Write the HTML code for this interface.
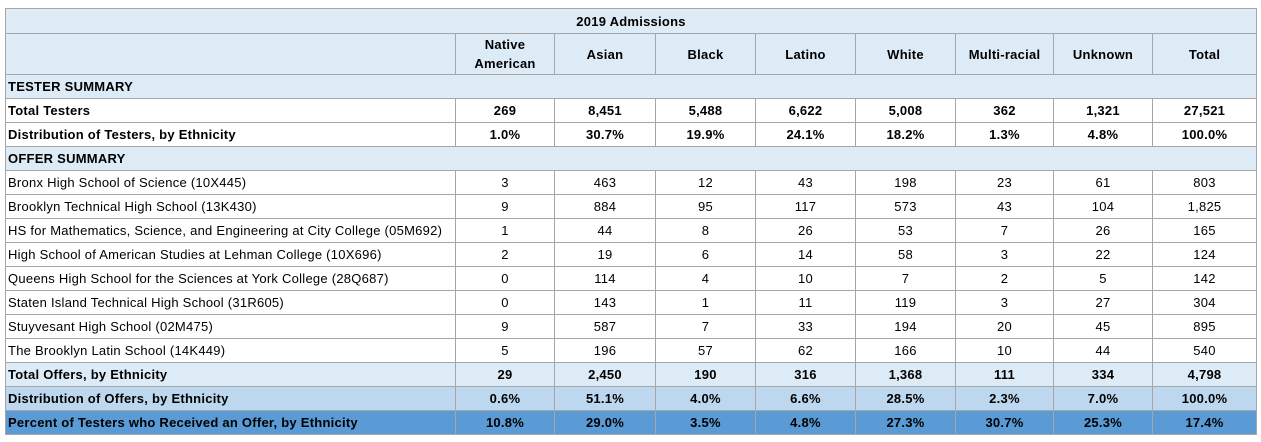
<!DOCTYPE html>
<html><head><meta charset="utf-8"><style>
body{margin:0;width:1261px;height:442px;background:#fff;font-family:"Liberation Sans",sans-serif;overflow:hidden}
table{position:absolute;left:5px;top:8px;border-collapse:collapse;table-layout:fixed;width:1251px;font-size:13px;letter-spacing:0.25px;color:#000}
td{border:1px solid #a6a6a6;height:23px;padding:0 3px;text-align:center;white-space:nowrap;overflow:hidden}
td.l{text-align:left;padding-left:2px}
tr.b td{font-weight:bold}
.lb{background:#ddebf7}
.mb{background:#bdd7ee}
.db{background:#5b9bd5}
</style></head><body>
<table>
<colgroup><col style="width:450px"><col style="width:99px"><col style="width:101px"><col style="width:100px"><col style="width:100px"><col style="width:100px"><col style="width:98px"><col style="width:99px"><col style="width:104px"></colgroup>
<tr class="b lb"><td colspan="9" style="height:24px">2019 Admissions</td></tr>
<tr class="b lb"><td style="height:40px"></td><td style="line-height:19px">Native<br>American</td><td>Asian</td><td>Black</td><td>Latino</td><td>White</td><td>Multi-racial</td><td>Unknown</td><td>Total</td></tr>
<tr class="b lb"><td class="l" colspan="9">TESTER SUMMARY</td></tr>
<tr class="b"><td class="l">Total Testers</td><td>269</td><td>8,451</td><td>5,488</td><td>6,622</td><td>5,008</td><td>362</td><td>1,321</td><td>27,521</td></tr>
<tr class="b"><td class="l">Distribution of Testers, by Ethnicity</td><td>1.0%</td><td>30.7%</td><td>19.9%</td><td>24.1%</td><td>18.2%</td><td>1.3%</td><td>4.8%</td><td>100.0%</td></tr>
<tr class="b lb"><td class="l" colspan="9">OFFER SUMMARY</td></tr>
<tr><td class="l">Bronx High School of Science (10X445)</td><td>3</td><td>463</td><td>12</td><td>43</td><td>198</td><td>23</td><td>61</td><td>803</td></tr>
<tr><td class="l">Brooklyn Technical High School (13K430)</td><td>9</td><td>884</td><td>95</td><td>117</td><td>573</td><td>43</td><td>104</td><td>1,825</td></tr>
<tr><td class="l">HS for Mathematics, Science, and Engineering at City College (05M692)</td><td>1</td><td>44</td><td>8</td><td>26</td><td>53</td><td>7</td><td>26</td><td>165</td></tr>
<tr><td class="l">High School of American Studies at Lehman College (10X696)</td><td>2</td><td>19</td><td>6</td><td>14</td><td>58</td><td>3</td><td>22</td><td>124</td></tr>
<tr><td class="l">Queens High School for the Sciences at York College (28Q687)</td><td>0</td><td>114</td><td>4</td><td>10</td><td>7</td><td>2</td><td>5</td><td>142</td></tr>
<tr><td class="l">Staten Island Technical High School (31R605)</td><td>0</td><td>143</td><td>1</td><td>11</td><td>119</td><td>3</td><td>27</td><td>304</td></tr>
<tr><td class="l">Stuyvesant High School (02M475)</td><td>9</td><td>587</td><td>7</td><td>33</td><td>194</td><td>20</td><td>45</td><td>895</td></tr>
<tr><td class="l">The Brooklyn Latin School (14K449)</td><td>5</td><td>196</td><td>57</td><td>62</td><td>166</td><td>10</td><td>44</td><td>540</td></tr>
<tr class="b lb"><td class="l">Total Offers, by Ethnicity</td><td>29</td><td>2,450</td><td>190</td><td>316</td><td>1,368</td><td>111</td><td>334</td><td>4,798</td></tr>
<tr class="b mb"><td class="l">Distribution of Offers, by Ethnicity</td><td>0.6%</td><td>51.1%</td><td>4.0%</td><td>6.6%</td><td>28.5%</td><td>2.3%</td><td>7.0%</td><td>100.0%</td></tr>
<tr class="b db"><td class="l">Percent of Testers who Received an Offer, by Ethnicity</td><td>10.8%</td><td>29.0%</td><td>3.5%</td><td>4.8%</td><td>27.3%</td><td>30.7%</td><td>25.3%</td><td>17.4%</td></tr>
</table>
</body></html>
